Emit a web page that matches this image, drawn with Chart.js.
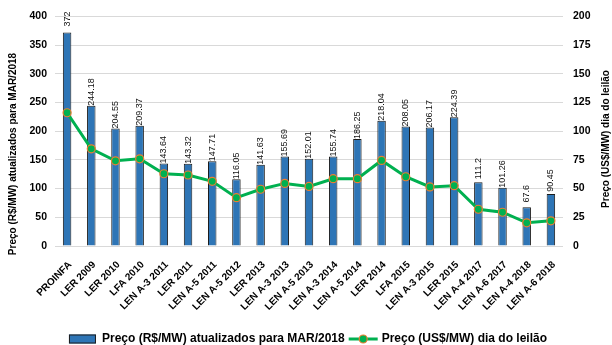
<!DOCTYPE html>
<html>
<head>
<meta charset="utf-8">
<script src="https://cdn.jsdelivr.net/npm/chart.js@4/dist/chart.umd.min.js"></script>
<style>
  html, body { margin: 0; padding: 0; background: #fff; }
  #wrap { width: 612px; height: 345px; }
</style>
</head>
<body>
<div id="wrap"><canvas id="chart" width="612" height="345"></canvas></div>
<script>
// Leilões de energia: preço atualizado (R$) e preço no dia do leilão (US$)
const categories = [
  'PROINFA', 'LER 2009', 'LER 2010', 'LFA 2010', 'LEN A-3 2011', 'LER 2011',
  'LEN A-5 2011', 'LEN A-5 2012', 'LER 2013', 'LEN A-3 2013', 'LEN A-5 2013',
  'LEN A-3 2014', 'LEN A-5 2014', 'LER 2014', 'LFA 2015', 'LEN A-3 2015',
  'LER 2015', 'LEN A-4 2017', 'LEN A-6 2017', 'LEN A-4 2018', 'LEN A-6 2018'
];
const precoReais = [
  372, 244.18, 204.55, 209.37, 143.64, 143.32, 147.71, 116.05, 141.63, 155.69,
  152.01, 155.74, 186.25, 218.04, 208.05, 206.17, 224.39, 111.2, 101.26, 67.6, 90.45
];
const precoDolar = [
  116, 84.6, 74.2, 75.9, 62.9, 61.8, 56.3, 42.1, 49.4, 54.5,
  51.9, 58.6, 58.6, 74.5, 60.3, 51.4, 52.5, 32.0, 29.4, 20.2, 21.9
];
const leftAxisRange = [0, 400, 50];
const rightAxisRange = [0, 200, 25];
const seriesNames = ['Preço (R$/MW) atualizados para MAR/2018', 'Preço (US$/MW) dia do leilão'];
const axisTitles = ['Preço (R$/MW) atualizados para MAR/2018', 'Preço (US$/MW) dia do leilão'];

const FONT = "'Liberation Sans', Arial, sans-serif";
const BAR_FILL = '#2e75b6';
const BAR_EDGE = '#1c1c1c';
const LINE_GREEN = '#00b050';
const POINT_EDGE = '#ed7d31';

// Value labels written vertically above each bar
const barLabels = {
  id: 'barLabels',
  afterDatasetsDraw(chart) {
    const ctx = chart.ctx;
    const meta = chart.getDatasetMeta(0);
    const data = chart.data.datasets[0].data;
    ctx.save();
    ctx.font = '9px ' + FONT;
    ctx.fillStyle = '#111';
    ctx.textAlign = 'center';
    ctx.textBaseline = 'middle';
    meta.data.forEach((bar, i) => {
      const txt = String(data[i]);
      const w = ctx.measureText(txt).width;
      const cy = bar.y - Math.max(w, 27) / 2;
      ctx.save();
      ctx.translate(bar.x, cy);
      ctx.rotate(-Math.PI / 2);
      ctx.fillText(txt, 0, 0);
      ctx.restore();
    });
    ctx.restore();
  }
};

// Axis titles, both reading bottom to top
const axisTitlePlugin = {
  id: 'axisTitlePlugin',
  afterDraw(chart) {
    const ctx = chart.ctx;
    ctx.save();
    ctx.font = 'bold 10px ' + FONT;
    ctx.fillStyle = '#000';
    ctx.textAlign = 'center';
    ctx.textBaseline = 'middle';
    [[13, 154, axisTitles[0]], [606, 139, axisTitles[1]]].forEach(([x, y, t]) => {
      ctx.save();
      ctx.translate(x, y);
      ctx.rotate(-Math.PI / 2);
      ctx.fillText(t, 0, 0);
      ctx.restore();
    });
    ctx.restore();
  }
};

// Legend along the bottom edge
const bottomLegend = {
  id: 'bottomLegend',
  afterDraw(chart) {
    const ctx = chart.ctx;
    ctx.save();
    ctx.font = 'bold 12px ' + FONT;
    ctx.textBaseline = 'middle';
    ctx.textAlign = 'left';
    const y = 339;
    const sw = 27, gap1 = 6, gap2 = 4, lineW = 29, gap3 = 4;
    const t1 = ctx.measureText(seriesNames[0]).width;
    const t2 = ctx.measureText(seriesNames[1]).width;
    const total = sw + gap1 + t1 + gap2 + lineW + gap3 + t2;
    let x = 308 - total / 2;
    // bar swatch
    ctx.fillStyle = BAR_FILL;
    ctx.fillRect(x, y - 4.5, sw, 9);
    ctx.strokeStyle = BAR_EDGE;
    ctx.lineWidth = 1;
    ctx.strokeRect(x + 0.5, y - 4, sw - 1, 8);
    x += sw + gap1;
    ctx.fillStyle = '#000';
    ctx.fillText(seriesNames[0], x, y);
    x += t1 + gap2;
    // line swatch with marker
    ctx.strokeStyle = LINE_GREEN;
    ctx.lineWidth = 3;
    ctx.beginPath();
    ctx.moveTo(x, y);
    ctx.lineTo(x + lineW, y);
    ctx.stroke();
    ctx.beginPath();
    ctx.arc(x + lineW / 2, y, 4, 0, Math.PI * 2);
    ctx.fillStyle = LINE_GREEN;
    ctx.fill();
    ctx.lineWidth = 1.2;
    ctx.strokeStyle = POINT_EDGE;
    ctx.stroke();
    x += lineW + gap3;
    ctx.fillStyle = '#000';
    ctx.fillText(seriesNames[1], x, y);
    ctx.restore();
  }
};

new Chart(document.getElementById('chart'), {
  data: {
    labels: categories,
    datasets: [
      {
        type: 'bar',
        label: seriesNames[0],
        data: precoReais,
        yAxisID: 'y',
        backgroundColor: BAR_FILL,
        borderColor: BAR_EDGE,
        borderWidth: 1,
        barPercentage: 0.35,
        categoryPercentage: 1,
        order: 2
      },
      {
        type: 'line',
        label: seriesNames[1],
        data: precoDolar,
        yAxisID: 'y1',
        borderColor: LINE_GREEN,
        borderWidth: 3,
        tension: 0,
        pointRadius: 4,
        pointBackgroundColor: LINE_GREEN,
        pointBorderColor: POINT_EDGE,
        pointBorderWidth: 1.2,
        order: 1
      }
    ]
  },
  options: {
    responsive: false,
    devicePixelRatio: 1,
    animation: false,
    layout: { padding: { top: 15, bottom: 24, left: 0, right: 0 } },
    plugins: {
      legend: { display: false },
      tooltip: { enabled: false }
    },
    scales: {
      x: {
        grid: { display: false, drawTicks: false },
        border: { display: false },
        ticks: {
          autoSkip: false,
          maxRotation: 45,
          minRotation: 45,
          padding: 13,
          labelOffset: 3,
          color: '#000',
          font: { family: FONT, size: 10, weight: 'bold' }
        },
        afterFit(s) { s.height = 75; }
      },
      y: {
        position: 'left',
        min: leftAxisRange[0],
        max: leftAxisRange[1],
        grid: { color: '#d9d9d9', lineWidth: 1, drawTicks: false },
        border: { display: false },
        ticks: {
          stepSize: leftAxisRange[2],
          padding: 8,
          color: '#000',
          font: { family: FONT, size: 10.5, weight: 'bold' }
        },
        afterFit(s) { s.width = 55; }
      },
      y1: {
        position: 'right',
        min: rightAxisRange[0],
        max: rightAxisRange[1],
        grid: { display: false, drawTicks: false },
        border: { display: false },
        ticks: {
          stepSize: rightAxisRange[2],
          padding: 10,
          color: '#000',
          font: { family: FONT, size: 10.5, weight: 'bold' }
        },
        afterFit(s) { s.width = 49; }
      }
    }
  },
  plugins: [barLabels, axisTitlePlugin, bottomLegend]
});
</script>
</body>
</html>
